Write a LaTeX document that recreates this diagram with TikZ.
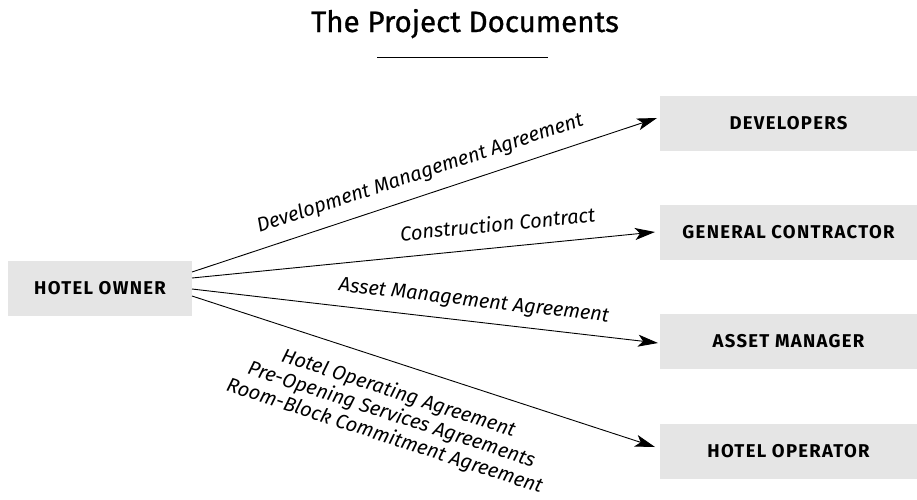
\documentclass[tikz,border=0pt]{standalone}
\usepackage{fontspec}
\setmainfont{Fira Sans}
\newfontfamily\titlefont[FakeBold=0.9]{Fira Sans}
\usetikzlibrary{arrows.meta}
\definecolor{boxgray}{HTML}{E5E5E5}
\tikzset{
  party/.style={fill=boxgray, draw=none, minimum height=55pt, inner sep=0pt,
    font=\fontsize{18.5}{22}\selectfont\bfseries\addfontfeatures{LetterSpace=7}},
  link/.style={draw=black, line width=0.9pt, -{Stealth[length=20pt,width=12pt,inset=5pt]}},
  lbl/.style={font=\fontsize{20}{22.5}\selectfont\itshape, sloped, inner sep=0pt}
}
\begin{document}
\begin{tikzpicture}[x=1pt,y=-1pt]
\useasboundingbox (0,0) rectangle (917,499);
\node[font=\fontsize{29.5}{34}\titlefont, anchor=base] (title) at (465,32) {The Project Documents};
\coordinate (ulA) at (377,57);
\coordinate (ulB) at (548,57);
\draw[line width=1pt] (ulA) -- (ulB);

\node[party, minimum width=184pt] (owner) at (100,288.5) {HOTEL OWNER};
\node[party, minimum width=257pt] (dev) at (788.5,123.5) {DEVELOPERS};
\node[party, minimum width=257pt] (gc) at (788.5,232) {GENERAL CONTRACTOR};
\node[party, minimum width=257pt] (am) at (788.5,341.5) {ASSET MANAGER};
\node[party, minimum width=257pt] (ho) at (788.5,451.5) {HOTEL OPERATOR};

\coordinate (s1) at (192,272);
\coordinate (s2) at (192,278);
\coordinate (s3) at (192,289);
\coordinate (s4) at (192,296);
\coordinate (e1) at (657,118);
\coordinate (e2) at (655,232);
\coordinate (e3) at (658,343);
\coordinate (e4) at (655,447);

\draw[link] (s1) -- node[lbl, pos=0.505, anchor=base, yshift=16pt] (l1) {Development Management Agreement} (e1);
\draw[link] (s2) -- node[lbl, pos=0.665, anchor=base, yshift=16pt] (l2) {Construction Contract} (e2);
\draw[link] (s3) -- node[lbl, pos=0.6, anchor=base, yshift=15pt] (l3) {Asset Management Agreement} (e3);
\draw[link] (s4) -- node[lbl, pos=0.465, anchor=north, yshift=-18.5pt, align=center] (l4) {Hotel Operating Agreement\\Pre-Opening Services Agreements\\Room-Block Commitment Agreement} (e4);
\end{tikzpicture}
\end{document}
